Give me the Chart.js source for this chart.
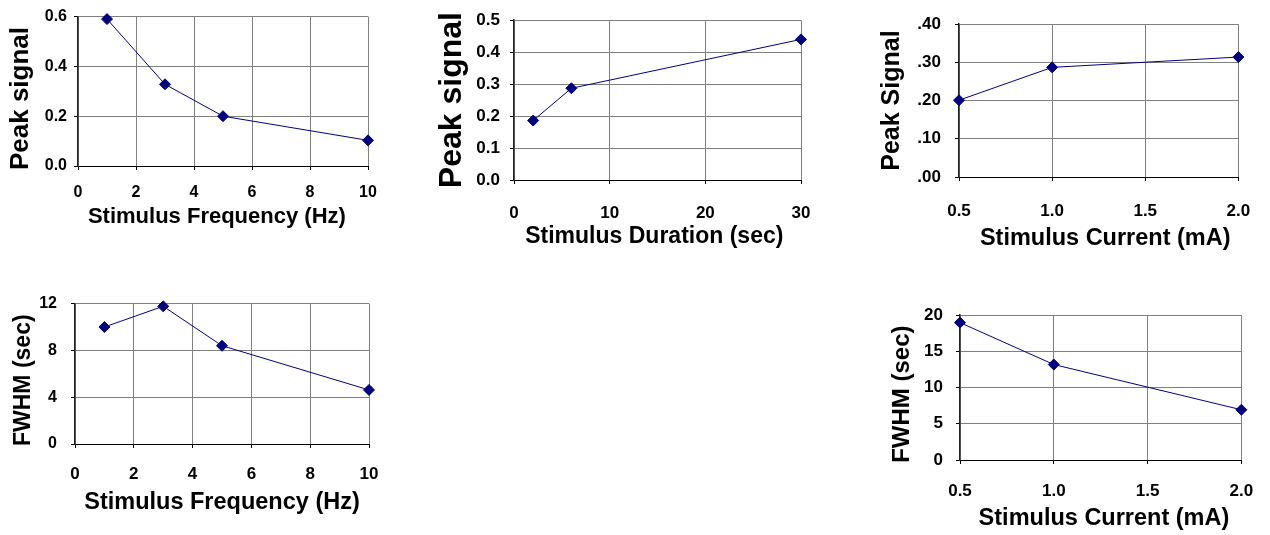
<!DOCTYPE html>
<html>
<head>
<meta charset="utf-8">
<script src="https://cdn.jsdelivr.net/npm/chart.js@4.4.1/dist/chart.umd.min.js"></script>
<style>
  html, body { margin: 0; padding: 0; background: #fff; }
  body { position: relative; width: 1270px; height: 535px; overflow: hidden; }
  .panel { position: absolute; }
  .panel canvas { display: block; }
</style>
</head>
<body>
<div class="panel" id="p1"><canvas id="c1"></canvas></div>
<div class="panel" id="p2"><canvas id="c2"></canvas></div>
<div class="panel" id="p3"><canvas id="c3"></canvas></div>
<div class="panel" id="p4"><canvas id="c4"></canvas></div>
<div class="panel" id="p5"><canvas id="c5"></canvas></div>
<script>
// values
const freqHz = [1, 3, 5, 10]
const peakByFreq = [0.59, 0.328, 0.2, 0.103]
const fwhmByFreq = [10.0, 11.77, 8.4, 4.62]

const durationSec = [2, 6, 30]
const peakByDuration = [0.186, 0.287, 0.44]

const currentMA = [0.5, 1.0, 2.0]
const peakByCurrent = [0.201, 0.287, 0.314]
const fwhmByCurrent = [18.95, 13.17, 6.93]

// axis ticks
const freqTicks = [0, 2, 4, 6, 8, 10]
const durationTicks = [0, 10, 20, 30]
const currentTicks = [0.5, 1.0, 1.5, 2.0]
const peakFreqTicks = [0, 0.2, 0.4, 0.6]
const peakDurTicks = [0, 0.1, 0.2, 0.3, 0.4, 0.5]
const peakCurTicks = [0, 0.1, 0.2, 0.3, 0.4]
const fwhmFreqTicks = [0, 4, 8, 12]
const fwhmCurTicks = [0, 5, 10, 15, 20]

const FONT = "'Liberation Sans', Arial, Helvetica, sans-serif"
const NAVY = '#000080'
const TICK_LEN = 4

const fmt = digits => v => Number(v).toFixed(digits)
const fmtNoLead = digits => v => Number(v).toFixed(digits).replace(/^0\./, '.')

function makePanel(id, cfg) {
  const [bx, by, bw, bh] = cfg.box
  const [pl, pt, pr, pb] = cfg.plot
  const f = cfg.fonts

  const wrap = document.getElementById('p' + id)
  wrap.style.left = bx + 'px'
  wrap.style.top = by + 'px'
  wrap.style.width = bw + 'px'
  wrap.style.height = bh + 'px'
  const canvas = document.getElementById('c' + id)
  canvas.width = bw
  canvas.height = bh
  canvas.style.width = bw + 'px'
  canvas.style.height = bh + 'px'

  const xs = cfg.xTicks, ys = cfg.yTicks
  const points = cfg.x.map((x, i) => ({ x, y: cfg.y[i] }))

  return new Chart(canvas, {
    type: 'line',
    data: {
      datasets: [{
        data: points,
        borderColor: NAVY,
        borderWidth: 1,
        backgroundColor: NAVY,
        pointStyle: 'rectRot',
        pointRadius: 5.5,
        pointBorderWidth: 1,
        pointBorderColor: NAVY,
        tension: 0,
        clip: false,
      }]
    },
    options: {
      responsive: false,
      devicePixelRatio: 1,
      animation: false,
      layout: {
        padding: { left: 0, top: pt - by, right: bx + bw - pr, bottom: 0 }
      },
      plugins: { legend: { display: false }, tooltip: { enabled: false } },
      scales: {
        x: {
          type: 'linear',
          min: xs[0],
          max: xs[xs.length - 1],
          afterFit: s => { s.height = by + bh - pb },
          ticks: {
            stepSize: xs[1] - xs[0],
            color: '#000',
            padding: cfg.xTickY - pb - TICK_LEN - 0.6 * f.xTick,
            maxRotation: 0,
            autoSkip: false,
            font: { family: FONT, size: f.xTick, weight: 'bold' },
            callback: cfg.xFmt,
          },
          grid: { color: '#808080', tickColor: '#000', tickLength: TICK_LEN, lineWidth: 1 },
          border: { color: '#000', width: 1 },
          title: {
            display: true,
            text: cfg.xTitle,
            color: '#000',
            font: { family: FONT, size: f.xTitle, weight: 'bold' },
            padding: { top: 0, bottom: by + bh - cfg.xTitleY - 0.6 * f.xTitle },
          },
        },
        y: {
          type: 'linear',
          min: ys[0],
          max: ys[ys.length - 1],
          afterFit: s => { s.width = pl - bx },
          ticks: {
            stepSize: ys[1] - ys[0],
            color: '#000',
            padding: pl - cfg.yTickRight - TICK_LEN,
            font: { family: FONT, size: f.yTick, weight: 'bold' },
            callback: cfg.yFmt,
          },
          grid: { color: '#808080', tickColor: '#000', tickLength: TICK_LEN, lineWidth: 1 },
          border: { color: '#222', width: 1.5 },
          title: {
            display: true,
            text: cfg.yTitle,
            color: '#000',
            font: { family: FONT, size: f.yTitle, weight: 'bold' },
            padding: { top: cfg.yTitleX - bx - 0.6 * f.yTitle, bottom: 0 },
          },
        },
      },
    },
  })
}

makePanel(1, {
  box: [0, 0, 400, 250], plot: [78, 15, 368, 166],
  yTickRight: 67, xTickY: 193, xTitleY: 217, yTitleX: 21,
  fonts: { yTick: 16, xTick: 16, xTitle: 22, yTitle: 26 },
  x: freqHz, y: peakByFreq, xTicks: freqTicks, yTicks: peakFreqTicks,
  xFmt: fmt(0), yFmt: fmt(1),
  xTitle: 'Stimulus Frequency (Hz)  ', yTitle: 'Peak signal  ',
})

makePanel(2, {
  box: [420, 0, 410, 260], plot: [514, 18, 801, 180],
  yTickRight: 500, xTickY: 213, xTitleY: 237, yTitleX: 452,
  fonts: { yTick: 17, xTick: 17, xTitle: 23, yTitle: 32 },
  x: durationSec, y: peakByDuration, xTicks: durationTicks, yTicks: peakDurTicks,
  xFmt: fmt(0), yFmt: fmt(1),
  xTitle: 'Stimulus Duration (sec) ', yTitle: 'Peak signal',
})

makePanel(3, {
  box: [850, 0, 420, 260], plot: [959, 24, 1248, 177],
  yTickRight: 941, xTickY: 211, xTitleY: 239, yTitleX: 892,
  fonts: { yTick: 17, xTick: 17, xTitle: 23.5, yTitle: 25 },
  x: currentMA, y: peakByCurrent, xTicks: currentTicks, yTicks: peakCurTicks,
  xFmt: fmt(1), yFmt: fmtNoLead(2),
  xTitle: '  Stimulus Current (mA)', yTitle: 'Peak Signal',
})

makePanel(4, {
  box: [0, 280, 400, 250], plot: [75, 303, 369, 444],
  yTickRight: 57, xTickY: 474, xTitleY: 503, yTitleX: 24,
  fonts: { yTick: 16, xTick: 17, xTitle: 23.5, yTitle: 23 },
  x: freqHz, y: fwhmByFreq, xTicks: freqTicks, yTicks: fwhmFreqTicks,
  xFmt: fmt(0), yFmt: fmt(0),
  xTitle: 'Stimulus Frequency (Hz)', yTitle: 'FWHM (sec)  ',
})

makePanel(5, {
  box: [850, 280, 420, 255], plot: [960, 315, 1248, 460],
  yTickRight: 943, xTickY: 491, xTitleY: 519, yTitleX: 902,
  fonts: { yTick: 17, xTick: 17, xTitle: 23.5, yTitle: 24 },
  x: currentMA, y: fwhmByCurrent, xTicks: currentTicks, yTicks: fwhmCurTicks,
  xFmt: fmt(1), yFmt: fmt(0),
  xTitle: ' Stimulus Current (mA)', yTitle: 'FWHM (sec)  ',
})
</script>
</body>
</html>
